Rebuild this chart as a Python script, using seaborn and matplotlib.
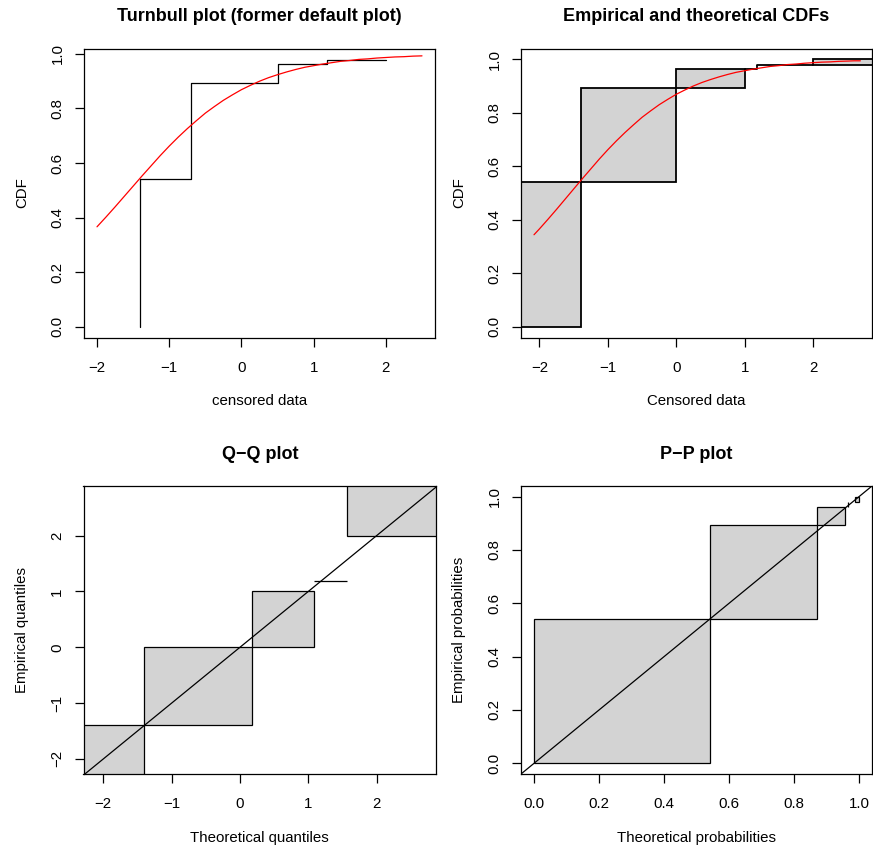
"""
Censored-data goodness-of-fit panels (Turnbull / CDF / Q-Q / P-P) in R base style
"""

import numpy as np
import matplotlib
matplotlib.use('Agg')
import matplotlib.pyplot as plt
from matplotlib.patches import Rectangle
import seaborn as sns

# Fitted CDF (red curve)
curve_x = [-2.08, -2.0, -1.875, -1.75, -1.625, -1.5, -1.375, -1.25, -1.125, -1.0,
           -0.875, -0.75, -0.625, -0.5, -0.375, -0.25, -0.125, 0.0, 0.125, 0.25,
           0.375, 0.5, 0.625, 0.75, 0.875, 1.0, 1.125, 1.25, 1.375, 1.5, 1.625,
           1.75, 1.875, 2.0, 2.125, 2.25, 2.375, 2.5, 2.6, 2.69]
curve_y = [0.344, 0.366, 0.402, 0.439, 0.477, 0.515, 0.553, 0.590, 0.627, 0.662,
           0.695, 0.726, 0.755, 0.783, 0.807, 0.830, 0.850, 0.869, 0.885, 0.900,
           0.913, 0.924, 0.934, 0.943, 0.951, 0.957, 0.963, 0.968, 0.973, 0.976, 0.980,
           0.982, 0.985, 0.987, 0.989, 0.990, 0.992, 0.993, 0.994, 0.994]

# Old Turnbull step plot
turnbull_x = [-1.40, -1.40, -0.70, 0.50, 1.18, 2.00]
turnbull_y = [0.0, 0.541, 0.894, 0.963, 0.979, 0.979]

# Turnbull intervals (NPMLE) and cumulative empirical probabilities
tb_left = [-np.inf, -1.40, 0.00, 1.18, 2.00]
tb_right = [-1.40, 0.00, 1.00, 1.18, np.inf]
emp_prob = [0.0, 0.540, 0.892, 0.963, 0.979, 1.0]

# Fitted CDF at the interval bounds (P-P) and fitted quantiles at emp_prob (Q-Q)
theo_prob_left = [0.0, 0.543, 0.870, 0.966, 0.987]
theo_prob_right = [0.543, 0.870, 0.958, 0.966, 1.0]
theo_q = [-np.inf, -1.41, 0.18, 1.09, 1.57, np.inf]

GREY = '#D3D3D3'
LW = 0.9

sns.set_style('ticks')
plt.rcParams.update({
    'font.family': ['Liberation Sans', 'DejaVu Sans'],
    'text.color': 'black',
    'axes.labelcolor': 'black',
    'axes.edgecolor': 'black',
    'axes.linewidth': LW,
    'xtick.color': 'black',
    'ytick.color': 'black',
    'xtick.major.size': 6.3,
    'ytick.major.size': 6.3,
    'xtick.major.width': LW,
    'ytick.major.width': LW,
    'xtick.labelsize': 10.8,
    'ytick.labelsize': 10.8,
    'axes.labelsize': 10.8,
})

W, H = 873, 848
fig = plt.figure(figsize=(W / 100, H / 100), dpi=100)


def add_axes(left, top, right, bottom):
    return fig.add_axes([left / W, 1 - bottom / H, (right - left) / W, (bottom - top) / H])


ax1 = add_axes(84, 48.5, 435, 337.5)
ax2 = add_axes(521, 48.5, 872, 337.5)
ax3 = add_axes(83.5, 486, 436, 774)
ax4 = add_axes(521, 486, 872, 774)


def box(ax, x0, x1, y0, y1, lw=LW):
    xl, yl = ax.get_xlim(), ax.get_ylim()
    x0, x1 = max(x0, xl[0] - 1), min(x1, xl[1] + 1)
    y0, y1 = max(y0, yl[0] - 1), min(y1, yl[1] + 1)
    ax.add_patch(Rectangle((x0, y0), x1 - x0, y1 - y0, facecolor=GREY,
                           edgecolor='black', lw=lw, zorder=1, clip_on=True))


def style(ax, title, xlabel, ylabel):
    ax.set_title(title, fontsize=12.96, fontweight='bold', pad=19.5, color='black')
    ax.set_xlabel(xlabel)
    ax.set_ylabel(ylabel)
    ax.xaxis.set_label_coords(0.5, -0.197)
    ax.yaxis.set_label_coords(-0.156, 0.5)
    ax.tick_params(axis='x', pad=10.4)
    ax.tick_params(axis='y', pad=7.6, labelrotation=90)
    for lab in ax.get_yticklabels():
        lab.set_va('center')
    for s in ax.spines.values():
        s.set_visible(True)


# 1. Turnbull plot
ax1.set_xlim(-2.18, 2.68)
ax1.set_ylim(-0.04, 1.02)
sns.lineplot(x=turnbull_x, y=turnbull_y, sort=False, estimator=None,
             drawstyle='steps-post', color='black', lw=LW, ax=ax1)
sns.lineplot(x=curve_x[1:-2], y=curve_y[1:-2], color='red', lw=LW, ax=ax1)
ax1.set_xticks([-2, -1, 0, 1, 2])
ax1.set_yticks([0, 0.2, 0.4, 0.6, 0.8, 1.0])
ax1.set_yticklabels(['0.0', '0.2', '0.4', '0.6', '0.8', '1.0'])
style(ax1, 'Turnbull plot (former default plot)', 'censored data', 'CDF')

# 2. Empirical and theoretical CDFs
ax2.set_xlim(-2.27, 2.86)
ax2.set_ylim(-0.04, 1.04)
for i in range(len(tb_left)):
    box(ax2, tb_left[i], tb_right[i], emp_prob[i], emp_prob[i + 1], lw=1.3)
for i in range(len(tb_left) - 1):
    if tb_left[i + 1] > tb_right[i]:
        sns.lineplot(x=[tb_right[i], tb_left[i + 1]], y=[emp_prob[i + 1]] * 2,
                     color='black', lw=1.3, ax=ax2)
sns.lineplot(x=curve_x, y=curve_y, color='red', lw=LW, ax=ax2)
ax2.set_xticks([-2, -1, 0, 1, 2])
ax2.set_yticks([0, 0.2, 0.4, 0.6, 0.8, 1.0])
ax2.set_yticklabels(['0.0', '0.2', '0.4', '0.6', '0.8', '1.0'])
style(ax2, 'Empirical and theoretical CDFs', 'Censored data', 'CDF')

# 3. Q-Q plot
ax3.set_xlim(-2.29, 2.87)
ax3.set_ylim(-2.27, 2.89)
for i in range(len(tb_left)):
    box(ax3, theo_q[i], theo_q[i + 1], tb_left[i], tb_right[i])
ax3.axline((0, 0), (1, 1), color='black', lw=LW, zorder=3)
ax3.set_xticks([-2, -1, 0, 1, 2])
ax3.set_yticks([-2, -1, 0, 1, 2])
style(ax3, 'Q\u2212Q plot', 'Theoretical quantiles', 'Empirical quantiles')

# 4. P-P plot
ax4.set_xlim(-0.04, 1.04)
ax4.set_ylim(-0.04, 1.04)
for i in range(len(tb_left)):
    box(ax4, theo_prob_left[i], theo_prob_right[i], emp_prob[i], emp_prob[i + 1])
ax4.axline((0, 0), (1, 1), color='black', lw=LW, zorder=3)
ax4.set_xticks([0, 0.2, 0.4, 0.6, 0.8, 1.0])
ax4.set_xticklabels(['0.0', '0.2', '0.4', '0.6', '0.8', '1.0'])
ax4.set_yticks([0, 0.2, 0.4, 0.6, 0.8, 1.0])
ax4.set_yticklabels(['0.0', '0.2', '0.4', '0.6', '0.8', '1.0'])
style(ax4, 'P\u2212P plot', 'Theoretical probabilities', 'Empirical probabilities')

for ax in (ax1, ax2, ax3, ax4):
    leg = ax.get_legend()
    if leg is not None:
        leg.remove()

fig.savefig('out.png', dpi=100)
plt.close(fig)
